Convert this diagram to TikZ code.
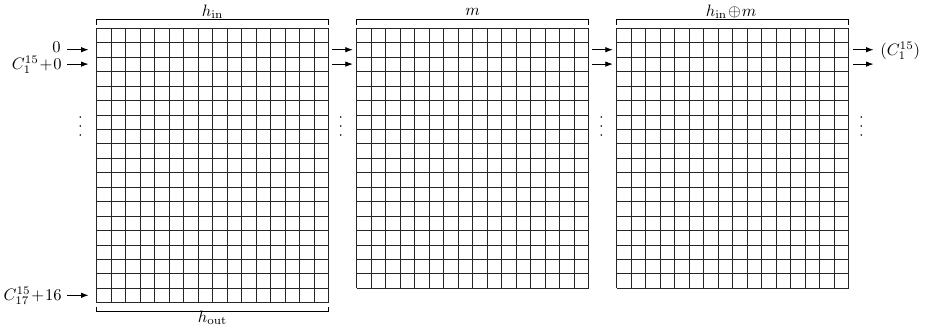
\documentclass[tikz,border=0pt]{standalone}
\usetikzlibrary{arrows.meta}
\begin{document}
\begin{tikzpicture}[x=1pt,y=-1pt,
  gridline/.style={line width=0.4pt, black!85},
  bracket/.style={line width=0.45pt, black},
  flow/.style={line width=0.8pt, -{Latex[length=7.5pt,width=5.5pt]}},
  lbl/.style={inner sep=0pt, scale=1.65},
  vdot/.style={circle, fill, inner sep=0pt, minimum size=1.7pt}]
\useasboundingbox (0,0) rectangle (931,335);
% grid 1 (16 x 19)
\foreach \i in {0,...,16} \draw[gridline] ({96.5+14.5*\i},28) -- ({96.5+14.5*\i},302.55);
\foreach \j in {0,...,19} \draw[gridline] (96.5,{28+14.45*\j}) -- (328.5,{28+14.45*\j});
% grid 2 and 3 (16 x 18)
\foreach \gx in {356.5,616.5} {
  \foreach \i in {0,...,16} \draw[gridline] ({\gx+14.5*\i},28) -- ({\gx+14.5*\i},288.1);
  \foreach \j in {0,...,18} \draw[gridline] (\gx,{28+14.45*\j}) -- ({\gx+232},{28+14.45*\j});
}
% brackets
\draw[bracket] (96.5,24.5) -- (96.5,19.5) -- (328.5,19.5) -- (328.5,24.5);
\draw[bracket] (356.5,24.5) -- (356.5,19.5) -- (588.5,19.5) -- (588.5,24.5);
\draw[bracket] (616.5,24.5) -- (616.5,19.5) -- (848.5,19.5) -- (848.5,24.5);
\draw[bracket] (96.5,306.5) -- (96.5,311) -- (328.5,311) -- (328.5,306.5);
% bracket labels
\node[lbl, anchor=base] (hin) at (212.5,16.5) {$h_{\mathrm{in}}$};
\node[lbl, anchor=base] (m) at (472.5,15) {$m$};
\node[lbl, anchor=base] (hinm) at (731,16.5) {$h_{\mathrm{in}}\!\oplus\! m$};
\node[lbl, anchor=base] (hout) at (212.5,322.5) {$h_{\mathrm{out}}$};
% side labels
\node[lbl, anchor=base east] (l0) at (61,52) {$0$};
\node[lbl, anchor=base east] (l1) at (62,69.5) {$C_1^{15}\!+\!0$};
\node[lbl, anchor=base east] (l17) at (62,300.7) {$C_{17}^{15}\!+\!16$};
\node[lbl, anchor=base west] (r1) at (880,55) {$(C_1^{15})$};
% arrow end points
\coordinate (in0s) at (67,49.7);   \coordinate (in0e) at (88.5,49.7);
\coordinate (in1s) at (67,64.1);   \coordinate (in1e) at (88.5,64.1);
\coordinate (in17s) at (67,295.3); \coordinate (in17e) at (88.5,295.3);
\draw[flow] (in0s) -- (in0e);
\draw[flow] (in1s) -- (in1e);
\draw[flow] (in17s) -- (in17e);
\foreach \ax/\nm in {332.3/a, 592.3/b, 853/c} {
  \coordinate (\nm0s) at (\ax,49.7); \coordinate (\nm0e) at ({\ax+20.5},49.7);
  \coordinate (\nm1s) at (\ax,64.1); \coordinate (\nm1e) at ({\ax+20.5},64.1);
  \draw[flow] (\nm0s) -- (\nm0e);
  \draw[flow] (\nm1s) -- (\nm1e);
}
% vertical dots
\foreach \dx/\nm in {80.3/d1, 340.8/d2, 601.2/d3, 861.2/d4} {
  \node[vdot] (\nm a) at (\dx,117) {};
  \node[vdot] (\nm b) at (\dx,126) {};
  \node[vdot] (\nm c) at (\dx,135) {};
}
\end{tikzpicture}
\end{document}
